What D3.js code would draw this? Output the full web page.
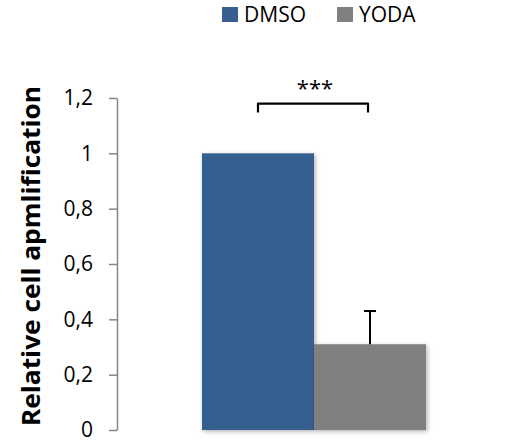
<!DOCTYPE html>
<html>
<head>
<meta charset="utf-8">
<script src="https://cdn.jsdelivr.net/npm/d3@7"></script>
<style>
  body { margin: 0; background: #fff; }
  text { font-family: "Open Sans", sans-serif; fill: #000; }
</style>
</head>
<body>
<svg></svg>
<script>
// chart values
let groups = ['Group']
let series = ['DMSO', 'YODA']
let values = [1, 0.31]
let errors = [0, 0.12]
let colors = ['#365E8E', '#808080']
let yTicks = [0, 0.2, 0.4, 0.6, 0.8, 1, 1.2]
let yTitle = 'Relative cell apmlification'
let signif = '***'
let bracketLevel = [1.148, 1.18]

let width = 505
let height = 443

let svg = d3.select('svg')
            .attr('width', width)
            .attr('height', height)

let defs = svg.append('defs')
let shadow = defs.append('filter')
                 .attr('id', 'shadow')
                 .attr('x', '-10%').attr('y', '-10%')
                 .attr('width', '130%').attr('height', '130%')
shadow.append('feDropShadow')
      .attr('dx', 1.5).attr('dy', 1.5)
      .attr('stdDeviation', 2)
      .attr('flood-color', '#000')
      .attr('flood-opacity', 0.3)

let xLeft = 117
let yScale = d3.scaleLinear()
               .domain([0, 1.2])
               .range([430, 98])

let xGroup = d3.scaleBand()
               .domain(groups)
               .range([xLeft, 511])
               .padding(0.275)

let xSeries = d3.scaleBand()
                .domain(series)
                .range([0, xGroup.bandwidth()])

// bars
let bars = svg.append('g')
bars.selectAll('rect')
    .data(series)
    .enter()
    .append('rect')
    .attr('x', (d) => xGroup(groups[0]) + xSeries(d))
    .attr('width', xSeries.bandwidth())
    .attr('y', (d, i) => yScale(values[i]))
    .attr('height', (d, i) => yScale(0) - yScale(values[i]))
    .attr('fill', (d, i) => colors[i])
    .attr('filter', 'url(#shadow)')

// error bars
let center = (d) => xGroup(groups[0]) + xSeries(d) + xSeries.bandwidth() / 2
let errG = svg.append('g')
series.forEach((s, i) => {
    if (errors[i] <= 0) return
    let cx = center(s)
    errG.append('line')
        .attr('x1', cx).attr('x2', cx)
        .attr('y1', yScale(values[i]))
        .attr('y2', yScale(values[i] + errors[i]))
        .attr('stroke', '#000')
        .attr('stroke-width', 2)
    errG.append('line')
        .attr('x1', cx - 6).attr('x2', cx + 6)
        .attr('y1', yScale(values[i] + errors[i]))
        .attr('y2', yScale(values[i] + errors[i]))
        .attr('stroke', '#000')
        .attr('stroke-width', 2)
})

// axes
let yAxis = d3.axisLeft(yScale)
              .tickValues(yTicks)
              .tickSize(8)
              .tickSizeOuter(0)
              .tickPadding(16)
              .tickFormat((d) => String(d).replace('.', ','))
let yG = svg.append('g')
            .attr('transform', 'translate(' + xLeft + ',0)')
            .call(yAxis)
yG.selectAll('path, line')
  .attr('stroke', '#868686')
  .attr('stroke-width', 1.5)
yG.selectAll('text')
  .attr('font-size', '21px')
  .attr('font-family', '"Open Sans", sans-serif')
  .attr('fill', '#000')

let xAxis = d3.axisBottom(xGroup)
              .tickSize(0)
              .tickFormat('')
let xG = svg.append('g')
            .attr('transform', 'translate(0,' + yScale(0) + ')')
            .call(xAxis)
xG.select('path')
  .attr('stroke', '#868686')
  .attr('stroke-width', 2)
  .attr('filter', 'url(#shadow)')

// axis title
svg.append('text')
   .attr('transform', 'translate(40,256) rotate(-90)')
   .attr('text-anchor', 'middle')
   .attr('font-size', '25px')
   .attr('font-weight', 'bold')
   .attr('textLength', 340)
   .attr('lengthAdjust', 'spacingAndGlyphs')
   .text(yTitle)

// significance bracket
let bx1 = center(series[0])
let bx2 = center(series[1]) - 2
svg.append('path')
   .attr('d', 'M' + bx1 + ',' + yScale(bracketLevel[0]) +
              'V' + yScale(bracketLevel[1]) +
              'H' + bx2 +
              'V' + yScale(bracketLevel[0]))
   .attr('fill', 'none')
   .attr('stroke', '#000')
   .attr('stroke-width', 2.2)
   .attr('stroke-linejoin', 'round')
svg.append('text')
   .attr('x', (bx1 + bx2) / 2 + 2)
   .attr('y', 96)
   .attr('text-anchor', 'middle')
   .attr('font-size', '22px')
   .text(signif)

// legend
let legend = svg.append('g')
let legendX = [222, 337]
series.forEach((s, i) => {
    legend.append('rect')
          .attr('x', legendX[i]).attr('y', 7)
          .attr('width', 16).attr('height', 15)
          .attr('fill', colors[i])
    legend.append('text')
          .attr('x', legendX[i] + 22)
          .attr('y', 22)
          .attr('font-size', '21px')
          .text(s)
})
</script>
</body>
</html>
